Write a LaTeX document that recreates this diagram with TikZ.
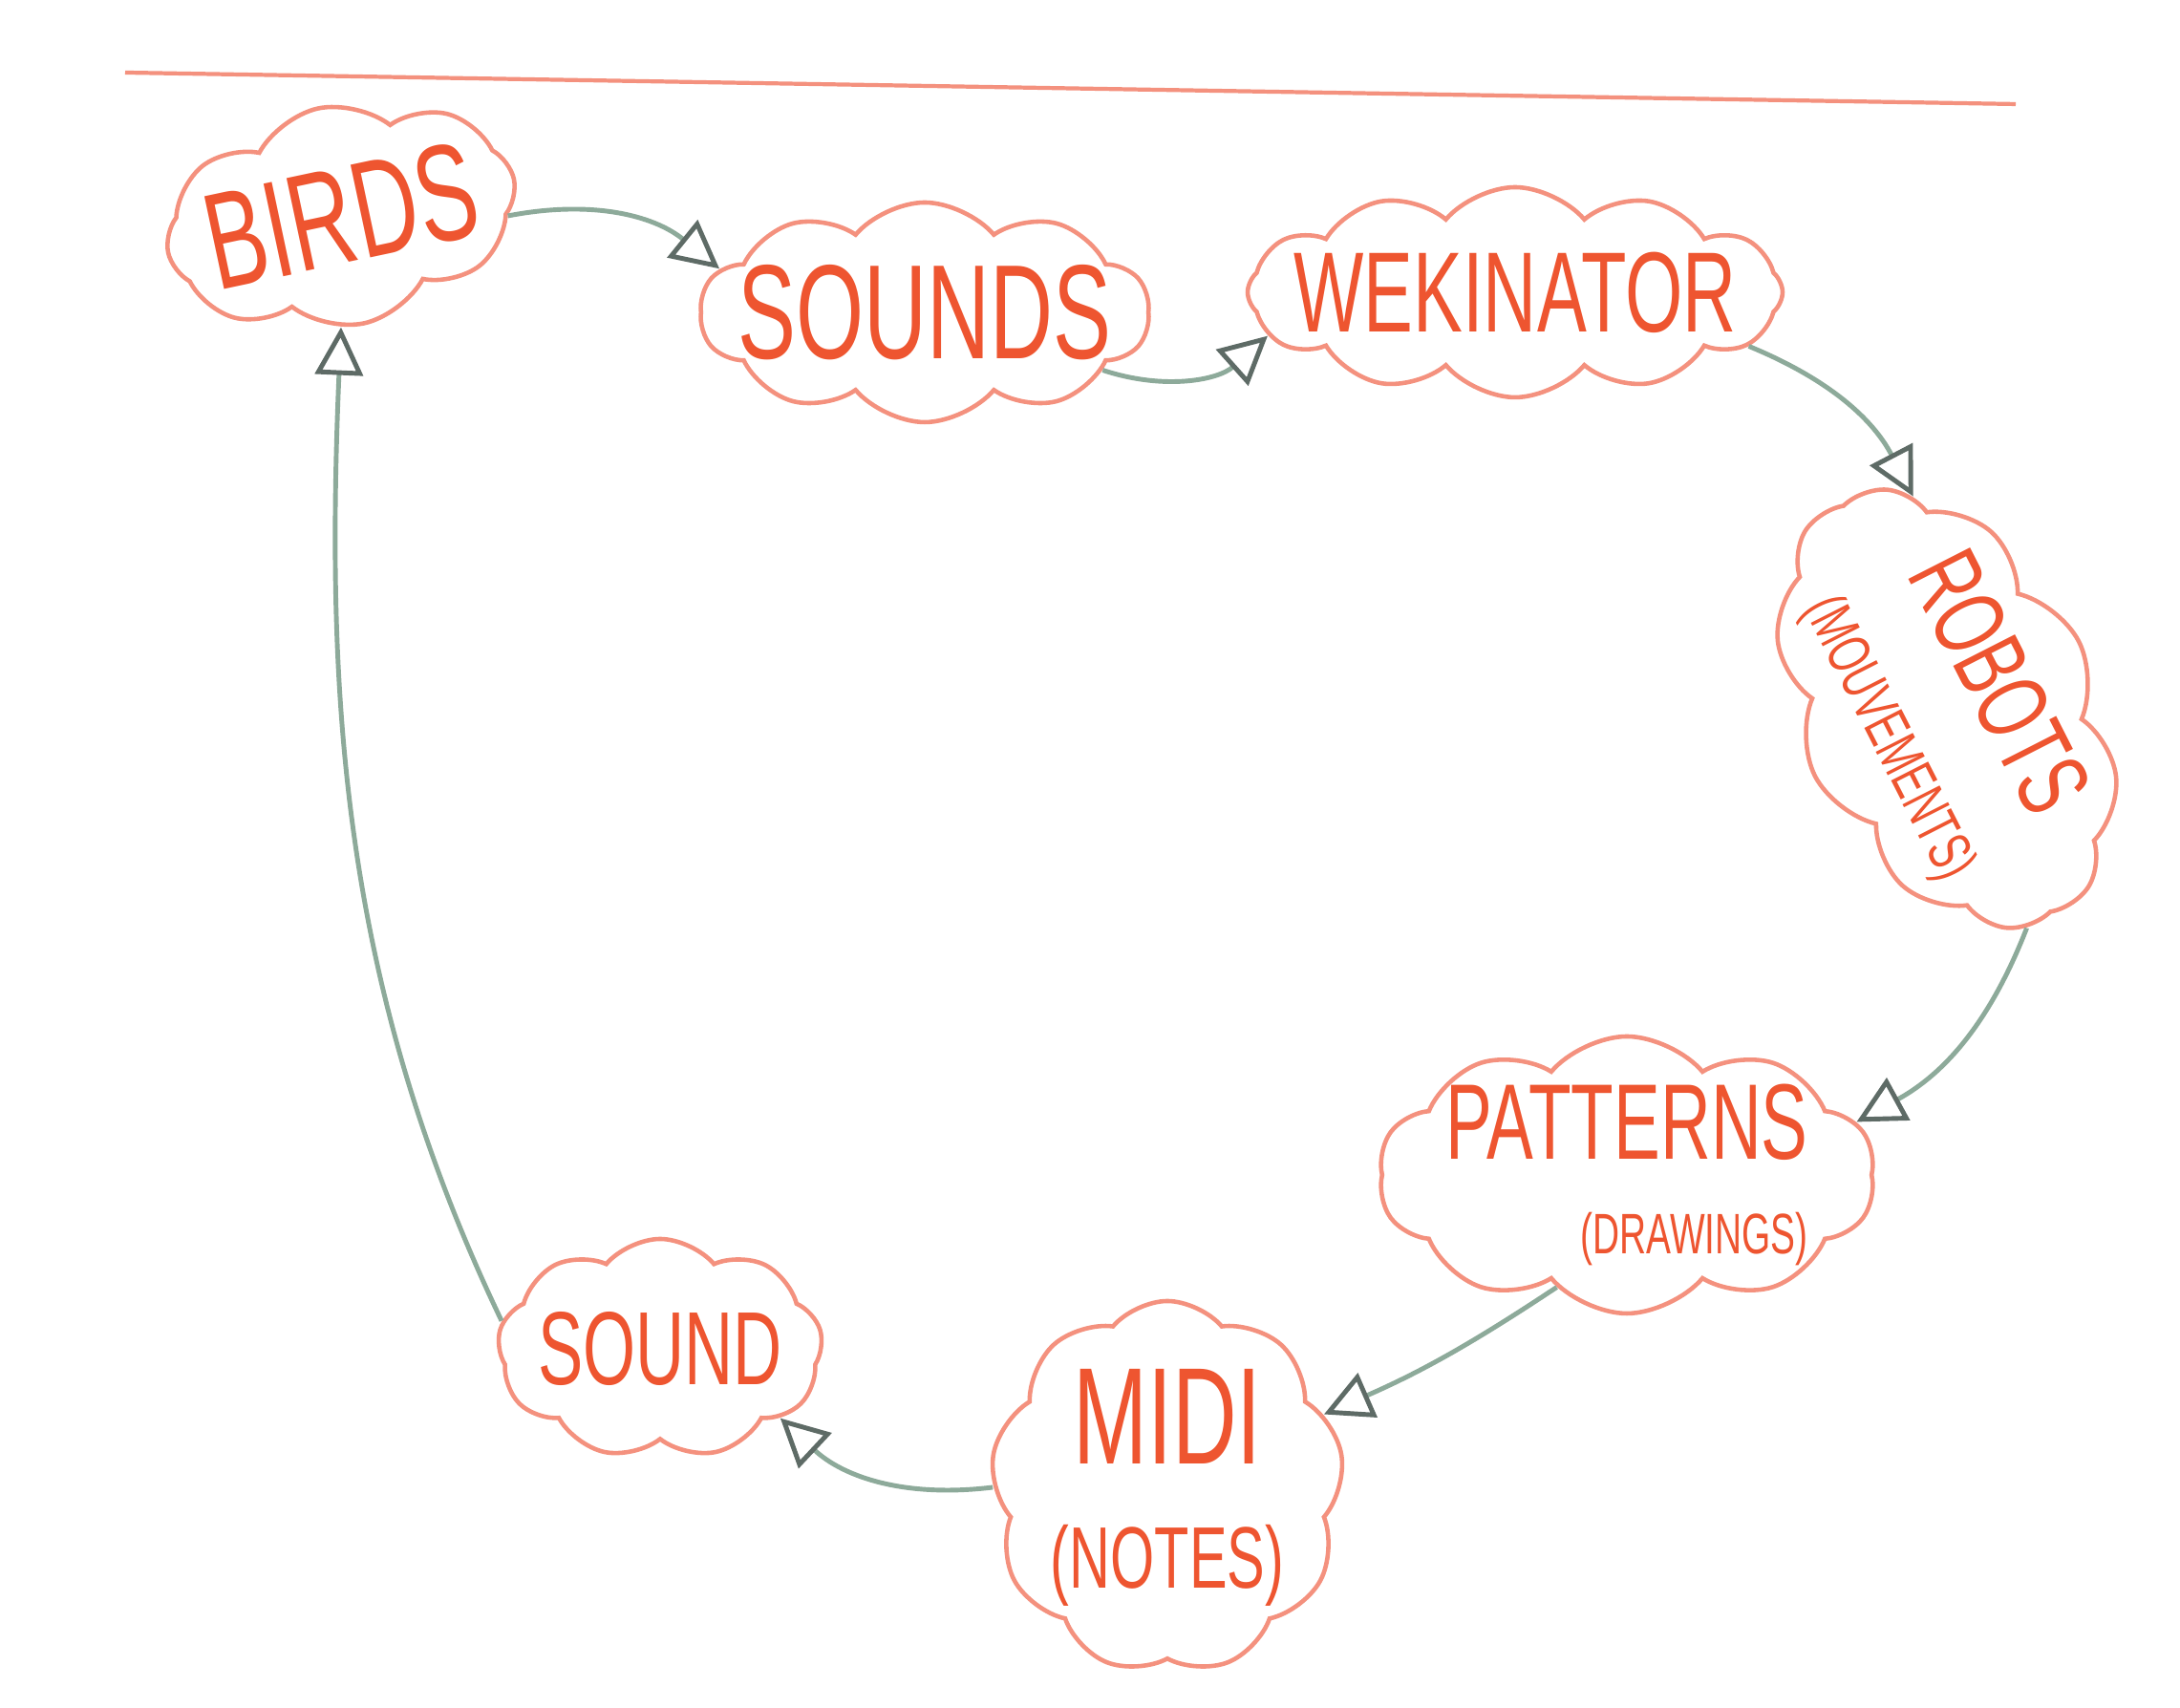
\documentclass[tikz,border=0pt]{standalone}
\usepackage{fontspec}
\newfontfamily\handfont[FakeStretch=0.65]{Liberation Sans}
\usetikzlibrary{arrows.meta,shapes.symbols}
\definecolor{Marker}{HTML}{F4917E}
\definecolor{Ink}{HTML}{EE5530}
\definecolor{Sage}{HTML}{8DAA9A}
\definecolor{Slate}{HTML}{5E6B66}

\begin{document}
\begin{tikzpicture}[
    blob/.style={
      cloud,
      cloud puffs=10,
      cloud puff arc=100,
      cloud ignores aspect,
      draw=Marker,
      line width=1.3pt,
      text=Ink,
      align=center,
      inner xsep=-1.4cm,
      inner ysep=-0.6cm
    },
    flow/.style={-{Triangle[open, length=5mm, width=5mm, color=Slate]}, draw=Sage, line width=1.4pt}
  ]
    \fill[white] (0,0) rectangle (22.82,17.88);
    \useasboundingbox (0,0) rectangle (22.82,17.88);
    \draw[Marker, line width=1.2pt] (1.31,17.12) -- (21.10,16.79);

    \node[blob, cloud puffs=8, minimum width=3.7cm, minimum height=2.3cm, rotate=12,
      font=\handfont\fontsize{41}{44}\selectfont] (birds) at (3.57,15.62) {BIRDS};
    \node[blob, cloud puffs=10, minimum width=4.7cm, minimum height=2.3cm,
      font=\handfont\fontsize{40}{42}\selectfont] (sounds) at (9.68,14.61) {SOUNDS};
    \node[blob, cloud puffs=12, minimum width=5.6cm, minimum height=2.2cm,
      font=\handfont\fontsize{34}{36}\selectfont] (wekinator) at (15.86,14.82) {WEKINATOR};
    \node[blob, cloud puffs=10, minimum width=4.9cm, minimum height=3.1cm, rotate=-63,
      font=\handfont\fontsize{30}{32}\selectfont] (robots) at (20.38,10.46)
      {ROBOTS\\[0pt]{\fontsize{18}{20}\selectfont(MOUVEMENTS)}};
    \node[blob, cloud puffs=10, minimum width=5.2cm, minimum height=2.9cm, align=right,
      font=\handfont\fontsize{32}{34}\selectfont] (patterns) at (17.03,5.58)
      {PATTERNS\\[-6pt]{\fontsize{17}{19}\selectfont(DRAWINGS)}};
    \node[blob, cloud puffs=9, minimum width=3.7cm, minimum height=3.9cm,
      font=\handfont\fontsize{41}{43}\selectfont] (midi) at (12.22,2.31)
      {MIDI\\[-6pt]{\fontsize{26}{28}\selectfont(NOTES)}};
    \node[blob, cloud puffs=9, minimum width=3.4cm, minimum height=2.3cm,
      font=\handfont\fontsize{31}{33}\selectfont] (sound) at (6.91,3.76) {SOUND};

    \draw[flow] (birds.-12) to[bend left=25] (sounds.168);
    \draw[flow] (sounds.-18) to[bend right=30] (wekinator.190);
    \draw[flow] (wekinator.-13) to[bend left=20] (robots.162);
    \draw[flow] (robots.-7) to[bend left=20] (patterns.13);
    \draw[flow] (patterns.238) to[bend left=5] (midi.25);
    \draw[flow] (midi.west) to[bend left=25] (sound.-30);
    \draw[flow] (sound.170) .. controls (3.6,7.5) and (3.4,10.5) .. (birds.-102);
  \end{tikzpicture}
\end{document}
